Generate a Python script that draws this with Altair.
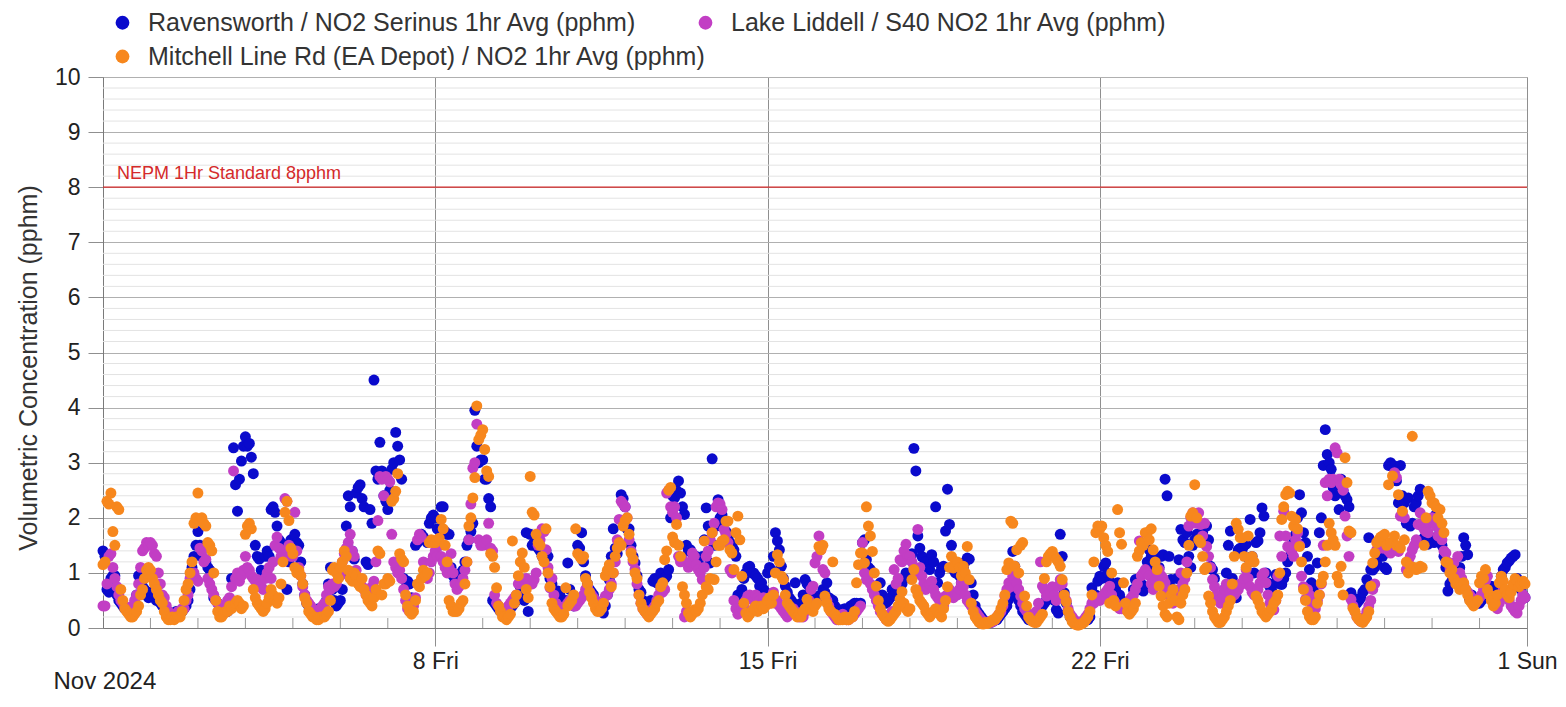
import altair as alt
import pandas as pd

series_names = [
    "Ravensworth / NO2 Serinus 1hr Avg (pphm)",
    "Lake Liddell / S40 NO2 1hr Avg (pphm)",
    "Mitchell Line Rd (EA Depot) / NO2 1hr Avg (pphm)",
]
series_colors = ["#0a0acc", "#c23ec4", "#f7871d"]

# hourly values, one row per day (Nov 1 .. Nov 30 2024), 24 hours each
rav = [
    [1.4, 1.3, 0.7, 0.65, 0.9, 0.95, 0.95, 0.6, 0.5, 0.45, 0.4, 0.35, 0.35, 0.3, 0.3, 0.35, 0.4, 0.6, 0.95, 0.85, 0.75, 0.7, 0.6, 0.55],
    [0.65, 0.6, 0.55, 0.5, 0.5, 0.45, 0.4, 0.35, 0.3, 0.3, 0.25, 0.25, 0.25, 0.3, 0.3, 0.3, 0.3, 0.35, 0.4, 0.5, 0.7, 1.1, 1.3, 1.5],
    [1.75, 1.5, 1.3, 1.25, 1.2, 1.1, 1.05, 1.0, 0.55, 0.5, 0.45, 0.4, 0.35, 0.3, 0.3, 0.3, 0.4, 0.9, 3.27, 2.6, 2.12, 2.7, 3.03, 3.3],
    [3.47, 3.3, 3.35, 3.1, 2.8, 1.5, 1.3, 1.25, 1.05, 0.95, 1.3, 1.4, 1.3, 2.15, 2.2, 2.1, 1.85, 1.6, 1.55, 1.5, 1.3, 0.7, 1.2, 1.6],
    [1.6, 1.7, 1.55, 1.5, 1.2, 0.8, 0.6, 0.45, 0.4, 0.35, 0.3, 0.3, 0.3, 0.35, 0.3, 0.3, 0.35, 0.5, 0.8, 1.1, 0.7, 0.5, 0.4, 0.45],
    [0.5, 0.7, 1.0, 1.85, 2.4, 2.2, 1.4, 1.25, 2.45, 2.55, 2.6, 2.35, 2.2, 1.2, 1.15, 2.15, 1.9, 4.5, 2.85, 2.7, 3.37, 2.85, 2.4, 2.3],
    [2.15, 2.5, 2.88, 3.0, 3.55, 3.3, 3.05, 2.7, 0.9, 0.85, 0.85, 0.8, 0.55, 0.5, 1.5, 1.55, 1.6, 1.7, 1.65, 1.6, 1.55, 1.9, 2.0, 2.05],
    [2.0, 1.8, 1.5, 2.2, 2.2, 1.75, 1.7, 1.7, 1.1, 0.95, 0.85, 0.8, 0.9, 1.0, 1.05, 1.2, 1.5, 1.6, 1.75, 1.9, 3.95, 3.3, 3.0, 3.05],
    [3.05, 2.7, 2.7, 2.35, 2.2, 0.5, 0.45, 0.4, 0.35, 0.3, 0.3, 0.25, 0.3, 0.3, 0.35, 0.4, 0.45, 0.5, 0.6, 0.75, 0.7, 0.5, 1.73, 0.3],
    [1.7, 1.5, 1.55, 1.5, 1.45, 1.4, 1.3, 1.35, 1.4, 1.3, 0.9, 0.8, 0.67, 0.65, 0.67, 0.6, 0.5, 0.45, 0.5, 1.18, 0.7, 0.5, 0.4, 0.45],
    [1.5, 1.45, 1.73, 1.2, 0.95, 0.8, 0.7, 0.65, 0.6, 0.5, 0.45, 0.4, 0.3, 0.27, 0.4, 0.6, 0.88, 1.3, 1.8, 1.45, 1.35, 1.5, 2.42, 2.35],
    [2.2, 1.8, 1.8, 1.5, 1.3, 1.18, 0.95, 0.7, 0.65, 0.5, 0.45, 0.4, 0.45, 0.5, 0.85, 0.9, 0.82, 0.9, 1.0, 0.85, 0.9, 0.94, 1.06, 2.0],
    [2.4, 2.36, 2.5, 2.67, 2.45, 2.2, 2.06, 1.5, 1.4, 1.42, 1.35, 1.3, 1.3, 1.25, 1.12, 1.3, 1.6, 2.18, 1.85, 1.18, 3.07, 1.5, 1.85, 2.33],
    [2.0, 2.05, 1.9, 1.75, 1.64, 1.55, 1.5, 1.42, 1.3, 0.6, 0.52, 0.7, 0.9, 1.0, 1.1, 1.12, 1.0, 1.0, 0.95, 0.9, 0.76, 0.82, 0.7, 0.65],
    [1.0, 1.1, 1.05, 1.3, 1.73, 1.58, 1.42, 1.12, 0.9, 0.76, 0.65, 0.55, 0.5, 0.45, 0.82, 0.4, 0.35, 0.45, 0.6, 0.88, 0.8, 0.76, 0.65, 0.55],
    [0.55, 0.5, 0.58, 0.6, 0.7, 0.65, 0.82, 0.55, 0.52, 0.5, 0.4, 0.35, 0.33, 0.3, 0.33, 0.35, 0.3, 0.33, 0.4, 0.42, 0.45, 0.45, 0.4, 0.45],
    [1.55, 1.6, 1.24, 1.1, 1.06, 0.76, 0.7, 0.58, 0.5, 0.82, 0.6, 0.5, 0.45, 0.5, 0.55, 0.7, 0.6, 0.65, 0.7, 0.88, 0.8, 0.9, 1.0, 1.25],
    [1.3, 1.35, 3.26, 2.85, 1.67, 1.45, 1.3, 1.27, 1.2, 1.1, 1.06, 1.33, 1.2, 2.2, 0.82, 1.0, 1.1, 1.12, 1.76, 2.52, 1.88, 1.5, 1.06, 1.0],
    [1.12, 0.95, 0.82, 1.1, 1.2, 1.27, 1.25, 0.82, 0.6, 0.4, 0.3, 0.25, 0.2, 0.15, 0.12, 0.1, 0.1, 0.1, 0.12, 0.15, 0.15, 0.2, 0.25, 0.3],
    [0.35, 0.4, 0.52, 0.6, 1.39, 1.12, 0.73, 0.5, 0.4, 0.3, 0.25, 0.2, 0.15, 0.15, 0.2, 0.2, 0.25, 0.3, 0.35, 0.4, 0.45, 0.5, 0.55, 0.6],
    [0.65, 0.5, 0.33, 0.27, 1.7, 1.3, 0.64, 0.45, 0.3, 0.2, 0.15, 0.12, 0.1, 0.1, 0.1, 0.1, 0.12, 0.15, 0.15, 0.2, 0.73, 0.5, 0.6, 0.85],
    [0.94, 0.9, 1.12, 1.18, 1.0, 0.85, 0.75, 0.6, 0.7, 0.82, 0.6, 0.5, 0.45, 0.4, 0.35, 0.33, 0.5, 0.7, 0.88, 0.75, 0.7, 0.8, 0.67, 0.75],
    [1.2, 1.42, 1.3, 1.06, 1.0, 0.9, 1.1, 1.3, 1.33, 2.7, 2.4, 1.3, 0.88, 0.7, 0.6, 0.9, 1.24, 1.79, 1.6, 1.55, 1.73, 1.3, 1.1, 1.5],
    [1.6, 1.7, 1.67, 1.7, 1.73, 1.85, 1.85, 1.6, 1.12, 1.06, 0.9, 0.58, 0.55, 0.5, 0.55, 0.7, 1.0, 1.5, 1.76, 0.9, 0.7, 0.55, 1.42, 1.45],
    [1.42, 1.5, 1.52, 1.27, 1.97, 1.3, 1.0, 1.55, 1.58, 1.73, 2.18, 2.03, 1.0, 0.82, 0.75, 0.67, 0.8, 0.97, 0.9, 0.8, 0.79, 0.9, 1.0, 1.2],
    [1.3, 1.4, 1.55, 1.7, 2.0, 2.42, 2.09, 1.73, 1.55, 1.3, 1.06, 0.82, 0.7, 0.6, 1.18, 1.73, 2.0, 2.95, 3.6, 3.15, 3.0, 2.88, 2.55, 2.4],
    [2.55, 2.15, 2.7, 2.5, 2.4, 2.33, 2.2, 0.64, 0.55, 0.5, 0.45, 0.5, 0.55, 0.65, 0.7, 0.88, 1.64, 1.06, 1.05, 1.1, 1.18, 1.3, 1.36, 1.3],
    [1.1, 1.06, 2.95, 3.0, 2.94, 2.94, 2.67, 2.27, 2.95, 2.4, 2.27, 1.9, 2.36, 1.85, 1.9, 2.2, 2.27, 2.4, 2.52, 1.85, 1.64, 1.55, 1.52, 1.6],
    [1.64, 1.55, 2.06, 1.9, 1.75, 1.5, 1.3, 1.1, 0.67, 0.8, 0.85, 0.9, 0.95, 1.0, 1.1, 1.3, 1.64, 1.5, 1.33, 0.52, 0.6, 0.55, 0.5, 0.45],
    [0.45, 0.5, 0.55, 0.6, 0.65, 0.7, 0.76, 0.55, 0.5, 0.6, 0.75, 0.94, 1.06, 1.1, 1.18, 1.22, 1.27, 1.3, 1.33, 0.9, 0.82, 0.7, 0.6, 0.55],
]

lid = [
    [0.4, 0.4, 0.8, 1.3, 1.35, 1.1, 0.9, 0.75, 0.6, 0.5, 0.45, 0.4, 0.35, 0.3, 0.3, 0.4, 0.5, 0.6, 0.8, 1.1, 1.4, 1.45, 1.55, 1.5],
    [1.55, 1.5, 1.35, 1.3, 1.0, 0.8, 0.6, 0.55, 0.4, 0.3, 0.2, 0.2, 0.2, 0.25, 0.3, 0.3, 0.35, 0.35, 0.5, 0.6, 0.9, 0.95, 1.0, 0.9],
    [0.85, 1.45, 1.4, 1.2, 1.25, 0.9, 0.8, 0.7, 0.6, 0.5, 0.45, 0.4, 0.35, 0.35, 0.4, 0.5, 0.55, 0.75, 2.85, 0.9, 1.0, 0.85, 0.95, 1.05],
    [1.3, 1.1, 1.05, 0.95, 0.9, 0.85, 0.88, 0.8, 0.75, 0.7, 0.9, 1.0, 1.1, 0.9, 1.2, 1.5, 1.65, 1.45, 1.3, 1.4, 2.35, 2.3, 1.5, 1.3],
    [1.3, 2.1, 1.4, 1.1, 0.95, 0.75, 0.6, 0.5, 0.45, 0.4, 0.35, 0.3, 0.3, 0.3, 0.35, 0.4, 0.45, 0.6, 0.75, 0.7, 0.8, 0.75, 0.8, 0.95],
    [0.95, 1.2, 1.35, 1.45, 1.55, 1.7, 1.4, 1.3, 1.05, 0.9, 0.85, 0.75, 0.7, 0.6, 0.55, 0.65, 0.75, 0.85, 1.2, 1.95, 2.75, 2.7, 2.4, 2.75],
    [2.7, 2.65, 1.7, 1.2, 1.1, 1.0, 1.05, 0.9, 0.7, 0.5, 0.35, 0.3, 0.3, 0.4, 0.55, 1.6, 1.7, 1.65, 1.2, 1.0, 0.9, 1.0, 1.2, 1.3],
    [1.4, 1.3, 1.5, 1.3, 1.2, 1.1, 1.0, 1.1, 1.35, 1.0, 0.8, 0.7, 0.75, 0.8, 0.9, 1.05, 1.2, 1.6, 2.25, 2.9, 3.0, 3.7, 1.6, 1.5],
    [1.5, 1.55, 1.6, 1.9, 1.45, 1.4, 0.6, 0.45, 0.4, 0.35, 0.3, 0.3, 0.35, 0.4, 0.45, 0.5, 0.55, 0.6, 0.8, 0.85, 0.85, 0.8, 0.9, 0.85],
    [0.85, 0.8, 0.88, 1.0, 1.5, 1.6, 1.8, 1.75, 1.42, 1.1, 0.73, 0.9, 0.6, 0.45, 0.4, 0.35, 0.3, 0.35, 0.4, 0.45, 0.5, 0.45, 0.4, 0.4],
    [0.45, 0.5, 0.55, 0.6, 0.7, 0.75, 0.65, 0.6, 0.55, 0.5, 0.4, 0.35, 0.35, 0.45, 0.58, 0.6, 0.7, 0.8, 1.0, 1.2, 1.6, 1.97, 2.3, 2.25],
    [2.2, 2.0, 1.6, 1.4, 1.2, 1.06, 0.8, 0.6, 0.45, 0.35, 0.3, 0.25, 0.25, 0.3, 0.35, 0.4, 0.5, 0.6, 0.7, 0.65, 0.7, 2.45, 2.5, 2.2],
    [2.1, 2.2, 2.0, 1.3, 1.2, 1.25, 0.2, 0.3, 1.1, 1.2, 1.36, 1.3, 1.15, 1.06, 1.0, 0.88, 1.1, 1.3, 1.4, 1.6, 1.73, 1.9, 2.2, 2.27],
    [2.25, 2.15, 1.79, 1.7, 1.55, 1.06, 1.0, 0.5, 0.35, 0.25, 0.3, 0.35, 0.4, 0.5, 0.58, 0.6, 0.55, 0.5, 0.6, 0.55, 0.5, 0.45, 0.55, 0.5],
    [0.5, 0.45, 0.55, 0.65, 0.45, 0.5, 0.4, 0.35, 0.3, 0.25, 0.2, 0.25, 0.3, 0.35, 0.3, 0.25, 0.2, 0.25, 0.2, 0.3, 0.35, 0.5, 0.7, 0.76],
    [1.18, 1.3, 1.67, 1.42, 1.06, 1.0, 0.5, 0.4, 0.3, 0.25, 0.2, 0.15, 0.15, 0.2, 0.25, 0.2, 0.15, 0.15, 0.2, 0.2, 0.25, 0.3, 0.35, 0.4],
    [1.55, 1.0, 0.88, 0.95, 0.8, 0.7, 0.6, 0.5, 0.4, 0.3, 0.25, 0.2, 0.15, 0.2, 0.25, 0.3, 1.06, 0.8, 0.9, 1.24, 1.2, 1.4, 1.52, 1.3],
    [1.3, 1.2, 1.1, 1.0, 1.79, 1.1, 0.94, 0.8, 0.7, 0.75, 0.8, 0.85, 0.7, 0.6, 0.55, 0.5, 0.45, 0.4, 0.58, 0.6, 0.7, 0.65, 0.55, 0.6],
    [0.6, 0.7, 0.82, 0.75, 0.6, 0.5, 0.45, 0.4, 0.33, 0.3, 0.25, 0.2, 0.15, 0.12, 0.1, 0.1, 0.12, 0.1, 0.12, 0.15, 0.2, 0.25, 0.3, 0.4],
    [0.58, 0.7, 0.82, 0.75, 0.94, 0.88, 0.82, 0.7, 0.58, 0.45, 0.35, 0.3, 0.25, 0.2, 0.2, 0.25, 0.3, 0.45, 1.2, 0.76, 0.7, 0.58, 0.6, 0.65],
    [0.75, 0.6, 0.5, 0.76, 0.88, 0.8, 0.58, 0.5, 0.35, 0.25, 0.2, 0.15, 0.12, 0.1, 0.1, 0.12, 0.15, 0.2, 0.25, 0.35, 0.45, 0.45, 0.5, 0.55],
    [0.5, 0.55, 0.6, 0.65, 0.7, 0.76, 0.6, 0.5, 0.45, 0.4, 0.35, 0.35, 0.4, 0.4, 0.45, 0.5, 0.55, 0.6, 0.7, 0.8, 1.58, 0.95, 1.0, 1.06],
    [1.0, 0.95, 0.8, 0.7, 0.88, 1.0, 1.06, 0.95, 0.9, 0.82, 0.7, 0.6, 0.5, 0.45, 0.5, 0.6, 0.7, 1.0, 0.8, 0.9, 1.2, 1.85, 2.0, 2.09],
    [2.05, 1.9, 2.09, 1.88, 1.67, 1.9, 1.48, 1.3, 1.1, 0.88, 0.75, 0.6, 0.5, 0.45, 0.55, 0.7, 0.8, 0.75, 0.65, 0.7, 0.6, 0.65, 0.7, 0.8],
    [0.8, 0.9, 1.06, 0.9, 0.75, 0.65, 0.6, 0.58, 0.7, 0.82, 0.95, 1.0, 0.82, 0.6, 0.45, 0.35, 0.33, 0.5, 0.94, 1.67, 1.3, 2.12, 1.67, 1.48],
    [1.45, 1.4, 1.3, 1.6, 1.73, 1.5, 0.94, 0.75, 0.52, 0.7, 0.6, 0.45, 0.4, 0.35, 0.5, 0.6, 0.8, 1.5, 2.64, 2.4, 2.7, 2.64, 2.7, 3.27],
    [3.18, 2.7, 2.6, 2.5, 2.03, 1.67, 1.3, 0.52, 0.4, 0.3, 0.2, 0.15, 0.12, 0.15, 0.2, 0.3, 0.4, 0.5, 0.7, 0.8, 1.42, 1.5, 1.55, 1.45],
    [1.45, 1.5, 1.4, 1.36, 1.55, 2.82, 2.73, 1.39, 2.03, 2.09, 2.0, 1.06, 1.2, 1.3, 1.42, 1.5, 1.6, 1.88, 2.09, 1.9, 1.79, 1.75, 1.73, 1.9],
    [2.0, 1.9, 1.85, 1.67, 1.8, 1.6, 1.4, 1.36, 1.2, 1.1, 1.0, 1.18, 0.94, 1.3, 1.0, 0.9, 0.8, 0.7, 0.65, 0.6, 0.55, 0.5, 0.45, 0.5],
    [0.55, 0.6, 0.7, 0.85, 0.94, 0.6, 0.5, 0.45, 0.4, 0.35, 0.45, 0.6, 0.7, 0.65, 0.55, 0.5, 0.4, 0.35, 0.3, 0.27, 0.4, 0.5, 0.6, 0.55],
]

mit = [
    [1.15, 1.2, 2.3, 2.25, 2.45, 1.75, 1.5, 2.2, 2.15, 0.7, 0.5, 0.35, 0.3, 0.25, 0.2, 0.2, 0.25, 0.3, 0.4, 0.6, 0.7, 0.9, 1.05, 1.1],
    [1.05, 0.9, 0.8, 0.7, 0.6, 0.5, 0.45, 0.3, 0.2, 0.15, 0.15, 0.2, 0.15, 0.2, 0.2, 0.2, 0.3, 0.5, 0.7, 0.8, 1.0, 1.2, 1.9, 2.0],
    [2.45, 1.95, 2.0, 1.9, 1.85, 1.55, 1.5, 1.4, 1.0, 0.5, 0.3, 0.2, 0.2, 0.25, 0.3, 0.3, 0.4, 0.35, 0.4, 0.45, 0.5, 0.45, 0.35, 0.4],
    [1.7, 1.85, 1.9, 1.8, 0.7, 0.55, 0.45, 0.4, 0.35, 0.3, 0.35, 0.45, 0.55, 0.7, 0.6, 0.5, 0.45, 0.55, 0.8, 1.2, 2.1, 2.3, 1.95, 1.45],
    [1.35, 1.1, 1.0, 1.05, 0.95, 0.8, 0.55, 0.45, 0.3, 0.25, 0.2, 0.2, 0.15, 0.15, 0.2, 0.2, 0.2, 0.25, 0.3, 0.5, 1.05, 1.1, 1.0, 0.9],
    [1.1, 1.2, 1.4, 1.3, 1.05, 0.9, 0.85, 1.0, 0.95, 0.8, 0.75, 0.9, 0.7, 0.6, 0.5, 0.45, 0.4, 0.55, 0.7, 1.4, 1.35, 0.6, 0.8, 0.8],
    [0.9, 0.85, 2.3, 2.35, 2.48, 2.8, 1.35, 1.25, 1.2, 0.6, 0.4, 0.3, 0.25, 0.3, 0.5, 0.8, 0.75, 0.9, 1.05, 0.95, 1.0, 1.55, 1.6, 1.55],
    [1.55, 1.6, 1.63, 1.97, 1.8, 1.5, 1.2, 0.5, 0.4, 0.3, 0.3, 0.3, 0.35, 0.45, 0.5, 0.8, 1.2, 1.85, 2.0, 2.36, 2.73, 4.03, 3.42, 3.5],
    [3.6, 3.24, 2.85, 2.75, 1.35, 1.3, 1.1, 0.73, 0.4, 0.3, 0.2, 0.2, 0.15, 0.2, 0.25, 1.58, 0.45, 0.6, 0.95, 1.2, 1.36, 1.1, 0.7, 0.55],
    [2.75, 2.1, 2.05, 1.7, 1.55, 1.5, 1.3, 1.2, 1.8, 1.0, 0.75, 0.45, 0.35, 0.3, 0.25, 0.2, 0.2, 0.25, 0.73, 0.4, 0.45, 0.5, 0.6, 1.8],
    [1.35, 1.3, 1.25, 1.3, 0.9, 0.8, 0.65, 0.55, 0.45, 0.35, 0.3, 0.3, 0.35, 0.45, 0.95, 1.05, 1.15, 0.75, 1.0, 1.3, 1.45, 1.55, 1.5, 1.85],
    [1.95, 2.0, 1.7, 1.36, 1.25, 1.0, 0.9, 0.6, 0.45, 0.35, 0.3, 0.25, 0.2, 0.25, 0.3, 0.35, 0.45, 0.5, 0.75, 0.82, 1.24, 1.4, 2.5, 2.55],
    [1.65, 1.55, 1.88, 1.5, 1.3, 0.75, 0.6, 0.45, 0.27, 0.2, 0.25, 0.33, 0.3, 0.35, 0.45, 0.6, 1.58, 0.75, 0.7, 0.9, 1.73, 0.88, 1.2, 1.5],
    [1.5, 1.58, 1.6, 1.94, 1.94, 1.42, 1.36, 1.06, 1.73, 2.03, 1.6, 0.94, 0.45, 0.27, 0.2, 0.25, 0.3, 0.35, 0.4, 0.3, 0.35, 0.4, 0.35, 0.4],
    [0.5, 0.55, 0.45, 0.6, 1.0, 1.33, 1.2, 0.94, 0.88, 0.6, 0.45, 0.4, 0.35, 0.3, 0.25, 0.2, 0.25, 0.2, 0.3, 0.35, 0.52, 0.4, 0.35, 0.3],
    [0.4, 0.45, 1.48, 1.42, 1.5, 0.58, 0.45, 0.35, 0.3, 1.2, 0.25, 0.2, 0.15, 0.15, 0.15, 0.2, 0.15, 0.15, 0.2, 0.2, 0.3, 0.82, 1.15, 1.36],
    [1.36, 1.18, 2.2, 1.85, 1.67, 1.39, 1.0, 0.76, 0.5, 0.35, 0.25, 0.2, 0.15, 0.12, 0.15, 0.2, 0.25, 0.3, 0.4, 0.52, 0.66, 0.45, 0.35, 0.3],
    [0.35, 0.88, 1.06, 0.7, 0.6, 0.5, 0.45, 0.4, 0.3, 0.25, 0.2, 0.25, 0.3, 0.35, 0.3, 0.25, 0.2, 0.35, 0.5, 0.75, 1.1, 1.3, 1.09, 1.2],
    [1.2, 1.1, 0.95, 1.12, 1.0, 1.48, 0.88, 0.45, 0.3, 0.2, 0.15, 0.1, 0.08, 0.07, 0.1, 0.08, 0.1, 0.12, 0.15, 0.15, 0.2, 0.25, 0.35, 0.45],
    [0.6, 1.06, 1.18, 1.94, 1.9, 1.12, 1.42, 1.0, 1.5, 1.55, 0.58, 0.4, 0.2, 0.15, 0.12, 0.1, 0.1, 0.15, 0.2, 0.25, 0.9, 1.2, 1.3, 1.35],
    [1.39, 1.3, 1.25, 1.2, 1.12, 0.88, 0.6, 0.48, 0.3, 0.2, 0.12, 0.08, 0.06, 0.05, 0.06, 0.08, 0.1, 0.15, 0.2, 0.3, 0.6, 1.2, 1.73, 1.85],
    [1.8, 1.85, 1.64, 1.5, 1.39, 0.45, 1.0, 0.5, 0.4, 2.15, 1.73, 1.52, 0.82, 0.45, 0.3, 0.25, 0.3, 0.35, 0.45, 1.3, 1.4, 1.55, 1.5, 1.73],
    [1.73, 1.6, 1.8, 1.42, 1.2, 1.06, 0.76, 0.58, 0.4, 0.25, 0.2, 0.45, 0.6, 0.7, 0.5, 0.2, 0.15, 0.45, 0.6, 0.7, 1.0, 1.5, 2.03, 2.09],
    [2.6, 2.0, 1.6, 1.55, 1.3, 1.06, 1.1, 0.58, 0.45, 0.3, 0.2, 0.15, 0.1, 0.1, 0.15, 0.2, 0.3, 0.4, 0.5, 0.8, 1.3, 1.9, 1.79, 1.64],
    [1.64, 1.3, 1.1, 1.67, 1.2, 1.3, 1.2, 0.58, 0.5, 0.4, 0.3, 0.25, 0.2, 0.25, 0.3, 0.35, 0.45, 0.5, 0.6, 1.0, 1.97, 2.2, 2.42, 2.48],
    [2.45, 2.03, 1.85, 1.97, 1.8, 1.48, 1.2, 0.7, 0.5, 0.3, 0.2, 0.15, 0.15, 0.2, 0.45, 0.6, 0.82, 0.94, 1.2, 1.5, 1.9, 1.73, 1.6, 1.5],
    [0.94, 0.82, 1.12, 0.6, 3.09, 2.64, 1.76, 1.73, 0.36, 0.3, 0.2, 0.15, 0.12, 0.1, 0.15, 0.2, 0.3, 0.76, 1.18, 1.36, 1.55, 1.6, 1.65, 1.67],
    [1.7, 1.5, 2.6, 1.55, 2.76, 1.67, 1.5, 2.42, 1.45, 2.12, 1.6, 1.2, 1.0, 1.12, 3.48, 1.1, 1.06, 1.08, 1.12, 1.1, 1.5, 2.0, 2.48, 2.4],
    [2.27, 2.27, 2.2, 2.0, 2.15, 1.9, 1.73, 1.2, 1.18, 1.0, 1.06, 0.9, 0.8, 0.82, 0.7, 0.75, 0.82, 0.7, 0.6, 0.5, 0.45, 0.4, 0.45, 0.5],
    [0.82, 0.94, 0.9, 1.06, 0.7, 0.6, 0.5, 0.4, 0.45, 0.6, 0.82, 0.94, 0.85, 0.7, 0.6, 0.55, 0.65, 0.8, 0.9, 0.85, 0.75, 0.8, 0.85, 0.8],
]

x_tick_hours = [168, 336, 504, 720]
x_tick_labels = ["8 Fri", "15 Fri", "22 Fri", "1 Sun"]
day_tick_hours = [24 * k for k in range(1, 30)]
y_ticks = list(range(0, 11))
y_minor = [k / 5 for k in range(1, 50) if k % 5]
limit_value = [8]
limit_label = ["NEPM 1Hr Standard 8pphm"]
month_label = "Nov 2024"
y_title = "Volumetric Concentration (pphm)"

FONT = "Liberation Sans"
W, H = 1424, 551

rows = []
for name, days in zip(series_names, [rav, lid, mit]):
    for d, day in enumerate(days):
        for hr, v in enumerate(day):
            rows.append({"h": d * 24 + hr, "v": v, "series": name})
df = pd.DataFrame(rows)
df["idx"] = range(len(df))

label_expr = " : ".join(
    f"datum.value == {v} ? '{t}'" for v, t in zip(x_tick_hours, x_tick_labels)
) + " : ''"

x_scale = alt.Scale(domain=[0, 720], nice=False, zero=False)
y_scale = alt.Scale(domain=[0, 10], nice=False, zero=True)

x_axis = alt.Axis(
    values=x_tick_hours,
    labelExpr=label_expr,
    title=month_label,
    titleX=-50,
    titleY=60,
    titleAlign="left",
    titleBaseline="alphabetic",
    titleFontSize=24,
    titleFontWeight="normal",
    titleColor="#222222",
    grid=True,
    gridColor="#8f8f8f",
    gridWidth=1,
    tickSize=18,
    tickColor="#8f8f8f",
    labelFontSize=23,
    labelColor="#222222",
    labelPadding=4,
    labelFlush=False,
    labelOverlap=False,
    domainColor="#7a7a7a",
)
y_axis = alt.Axis(
    values=y_ticks,
    title=y_title,
    titleX=-75,
    titleY=H / 2 + 15,
    titleAlign="center",
    titleBaseline="middle",
    titleFontSize=25,
    titleFontWeight="normal",
    titleColor="#333333",
    grid=True,
    gridColor="#b0b0b0",
    tickSize=15,
    tickColor="#8f8f8f",
    labelFontSize=23,
    labelColor="#222222",
    labelPadding=8,
    domainColor="#7a7a7a",
)

minor_grid = alt.Chart(pd.DataFrame({"y": y_minor})).mark_rule(
    color="#e3e3e3", strokeWidth=1
).encode(y=alt.Y("y:Q", scale=y_scale, axis=y_axis))

day_ticks = alt.Chart(pd.DataFrame({"h": day_tick_hours})).mark_rule(
    color="#9a9a9a", strokeWidth=1
).encode(
    x=alt.X("h:Q", scale=x_scale, axis=x_axis),
    y=alt.value(H),
    y2=alt.value(H - 10),
)

limit_df = pd.DataFrame({"y": limit_value, "label": limit_label})
limit_line = alt.Chart(limit_df).mark_rule(color="#d42a2a", strokeWidth=1.2).encode(
    y=alt.Y("y:Q", scale=y_scale, axis=y_axis)
)
limit_text = alt.Chart(limit_df).mark_text(
    align="left", baseline="alphabetic", dy=-8, fontSize=18, color="#d42a2a", font=FONT
).encode(x=alt.value(14), y=alt.Y("y:Q", scale=y_scale, axis=y_axis), text="label:N")


def legend(ly):
    return alt.Legend(
        title=None,
        orient="none",
        legendX=7,
        legendY=ly,
        direction="horizontal",
        symbolType="circle",
        symbolSize=190,
        symbolStrokeWidth=0,
        labelFontSize=25,
        labelFont=FONT,
        labelColor="#333333",
        labelLimit=900,
        labelOffset=13,
        columnPadding=56,
    )


def series_layer(names, colors, ly):
    sub = df[df["series"].isin(names)]
    return alt.Chart(sub).mark_circle(size=120, opacity=1).encode(
        x=alt.X("h:Q", scale=x_scale, axis=x_axis),
        y=alt.Y("v:Q", scale=y_scale, axis=y_axis),
        color=alt.Color(
            "series:N",
            scale=alt.Scale(domain=names, range=colors),
            sort=names,
            legend=legend(ly),
        ),
        order=alt.Order("idx:Q"),
    )


pts_top = series_layer(series_names[:2], series_colors[:2], -67)
pts_bottom = series_layer(series_names[2:], series_colors[2:], -33)

chart = alt.layer(minor_grid, day_ticks, limit_line, limit_text, pts_top, pts_bottom).resolve_scale(
    color="independent"
).properties(
    width=W,
    height=H,
    autosize=alt.AutoSizeParams(type="none"),
    padding={"left": 95, "top": 69, "right": 31, "bottom": 67},
).configure(font=FONT).configure_view(stroke="#9a9a9a")

chart.save("out.html", embed_options={"renderer": "svg", "actions": False})
